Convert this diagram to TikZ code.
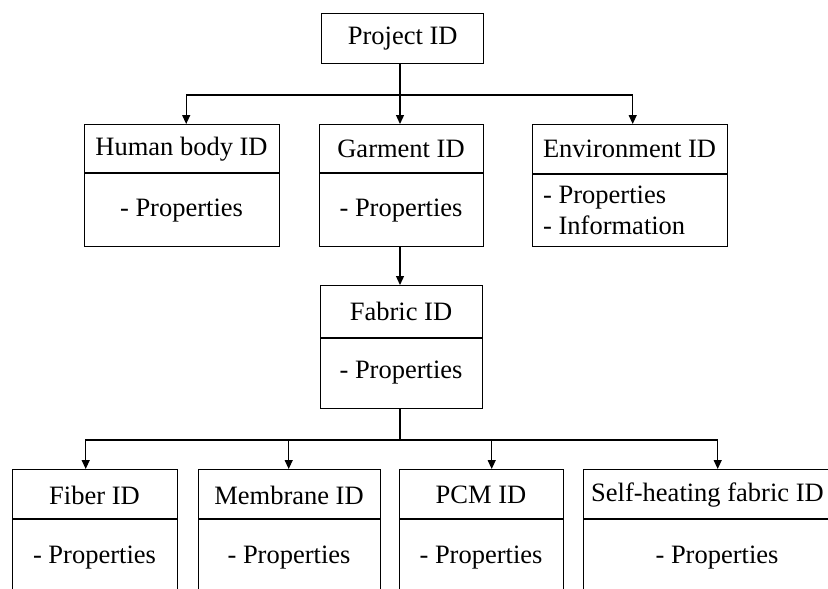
\documentclass[tikz,border=0pt]{standalone}
\usepackage{fontspec}
\setmainfont{Liberation Serif}
\usetikzlibrary{arrows.meta}
\begin{document}
\begin{tikzpicture}[x=1pt,y=-1pt,
  box/.style={draw, line width=1.4pt, rectangle, inner sep=0pt, anchor=north west},
  rule/.style={line width=1.2pt},
  link/.style={line width=1.3pt},
  arrow/.style={link, -{Triangle[length=9pt,width=8pt]}},
  txt/.style={font=\fontsize{26.5}{30}\selectfont, inner sep=0pt},
  lefttxt/.style={txt, anchor=west}]
\clip (0,0) rectangle (828,589);
\fill[white] (0,0) rectangle (828,589);

% top node
\node[box, minimum width=162, minimum height=50] (proj) at (321,13) {};
\node[txt] (projt) at (proj.center) {Project ID};

% second row
\node[box, minimum width=195, minimum height=122] (human) at (84,124) {};
\draw[rule] ([yshift=-49]human.north west) -- ([yshift=-49]human.north east);
\node[txt] (humant) at (181.5,149) {Human body ID};
\node[txt] (humanp) at (181.5,211) {- Properties};

\node[box, minimum width=164, minimum height=122] (garm) at (319,124) {};
\draw[rule] ([yshift=-49]garm.north west) -- ([yshift=-49]garm.north east);
\node[txt] (garmt) at (401,149) {Garment ID};
\node[txt] (garmp) at (401,211) {- Properties};

\node[box, minimum width=195, minimum height=122] (env) at (532,124) {};
\draw[rule] ([yshift=-50]env.north west) -- ([yshift=-50]env.north east);
\node[txt] (envt) at (629.5,149) {Environment ID};
\node[lefttxt] (envp1) at (543,198) {- Properties};
\node[lefttxt] (envp2) at (543,225) {- Information};

% fabric
\node[box, minimum width=162, minimum height=123] (fab) at (320,285) {};
\draw[rule] ([yshift=-53]fab.north west) -- ([yshift=-53]fab.north east);
\node[txt] (fabt) at (401,311) {Fabric ID};
\node[txt] (fabp) at (401,373) {- Properties};

% bottom row
\node[box, minimum width=165, minimum height=140] (fib) at (12,469) {};
\draw[rule] ([yshift=-50]fib.north west) -- ([yshift=-50]fib.north east);
\node[txt] (fibt) at (94.5,495) {Fiber ID};
\node[txt] (fibp) at (94.5,558) {- Properties};

\node[box, minimum width=182, minimum height=140] (mem) at (198,469) {};
\draw[rule] ([yshift=-50]mem.north west) -- ([yshift=-50]mem.north east);
\node[txt] (memt) at (289,495) {Membrane ID};
\node[txt] (memp) at (289,558) {- Properties};

\node[box, minimum width=164, minimum height=140] (pcm) at (399,469) {};
\draw[rule] ([yshift=-50]pcm.north west) -- ([yshift=-50]pcm.north east);
\node[txt] (pcmt) at (481,495) {PCM ID};
\node[txt] (pcmp) at (481,558) {- Properties};

\node[box, minimum width=270, minimum height=140] (self) at (583,469) {};
\draw[rule] ([yshift=-50]self.north west) -- ([yshift=-50]self.north east);
\node[txt, anchor=west] (selft) at (591,495) {Self-heating fabric ID};
\node[txt] (selfp) at (717,558) {- Properties};

% connectors
\coordinate (bus1) at (400,95);
\draw[link] (proj.south -| bus1) -- (bus1);
\draw[arrow] (bus1) -| ([xshift=4]human.north);
\draw[arrow] (bus1) -- (garm.north -| bus1);
\draw[arrow] (bus1) -| ([xshift=2.5]env.north);
\draw[arrow] (garm.south -| bus1) -- (fab.north -| bus1);

\coordinate (bus2) at (400,440);
\draw[link] (fab.south -| bus2) -- (bus2);
\draw[arrow] (bus2) -| ([xshift=-9.5]fib.north);
\draw[arrow] (bus2) -| ([xshift=-1]mem.north);
\draw[arrow] (bus2) -| ([xshift=10]pcm.north);
\draw[arrow] (bus2) -| ([xshift=-1]self.north);
\end{tikzpicture}
\end{document}
